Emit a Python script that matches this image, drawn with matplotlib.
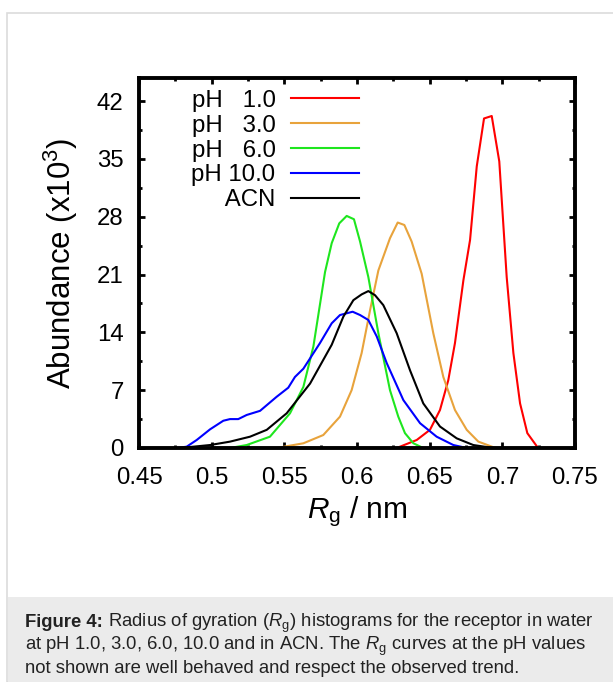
import matplotlib
matplotlib.use('Agg')
import matplotlib.pyplot as plt
from matplotlib.patches import Rectangle
from matplotlib.ticker import MultipleLocator

plt.rcParams['font.family'] = ['Liberation Sans', 'DejaVu Sans']
plt.rcParams['mathtext.fontset'] = 'custom'
plt.rcParams['mathtext.rm'] = 'Liberation Sans'
plt.rcParams['mathtext.it'] = 'Liberation Sans:italic'
plt.rcParams['mathtext.bf'] = 'Liberation Sans:bold'

# Rg histograms (abundance x10^3)
x_ph1 = [0.6273, 0.6411, 0.6502, 0.6571, 0.6628, 0.6674, 0.6732, 0.6778, 0.6824, 0.6874,
         0.6927, 0.6979, 0.7030, 0.7076, 0.7122, 0.7172, 0.7236, 0.7250]
y_ph1 = [0, 0.97, 2.2, 4.6, 8.2, 12.7, 20.3, 25.2, 34.1, 39.9,
         40.2, 34.7, 20.7, 11.5, 5.4, 1.8, 0.24, 0]

x_ph3 = [0.5447, 0.5631, 0.5768, 0.5883, 0.5963, 0.6032, 0.6090, 0.6147, 0.6227, 0.6280,
         0.6326, 0.6376, 0.6445, 0.6525, 0.6594, 0.6674, 0.6755, 0.6835, 0.6938, 0.6970]
y_ph3 = [0, 0.57, 1.57, 3.8, 7.0, 11.5, 16.7, 21.5, 25.4, 27.3,
         27.0, 25.0, 21.1, 13.9, 8.6, 4.6, 2.2, 0.77, 0.1, 0]

x_ph6 = [0.5126, 0.5241, 0.5401, 0.5539, 0.5631, 0.5700, 0.5780, 0.5826, 0.5878, 0.5929,
         0.5979, 0.6021, 0.6078, 0.6147, 0.6227, 0.6284, 0.6330, 0.6388, 0.6456]
y_ph6 = [0, 0.36, 1.37, 4.2, 7.4, 12.3, 21.3, 24.8, 27.2, 28.1,
         27.7, 25.0, 20.7, 13.9, 7.0, 3.8, 1.8, 0.57, 0]

x_ph10 = [0.4759, 0.4828, 0.4897, 0.4989, 0.5080, 0.5126, 0.5183, 0.5241, 0.5333, 0.5447,
          0.5527, 0.5573, 0.5631, 0.5745, 0.5826, 0.5883, 0.5970, 0.6021, 0.6078, 0.6136,
          0.6204, 0.6319, 0.6434, 0.6548, 0.6663, 0.6755]
y_ph10 = [0, 0.16, 0.97, 2.26, 3.3, 3.5, 3.5, 4.0, 4.5, 6.2,
          7.3, 8.6, 9.6, 12.7, 15.1, 16.1, 16.5, 16.1, 15.5, 13.5,
          10.3, 5.8, 3.0, 1.37, 0.36, 0]

x_acn = [0.4782, 0.4989, 0.5126, 0.5264, 0.5379, 0.5516, 0.5677, 0.5826, 0.5906, 0.5975,
         0.6032, 0.6078, 0.6124, 0.6181, 0.6273, 0.6365, 0.6456, 0.6571, 0.6686, 0.6800,
         0.6938]
y_acn = [0, 0.36, 0.77, 1.37, 2.2, 4.2, 7.8, 12.5, 15.9, 17.9,
         18.6, 19.0, 18.5, 17.3, 13.9, 9.4, 5.4, 2.6, 1.17, 0.36,
         0]

# labels padded so the numbers line up on the right like the original key
labels = ['pH   1.0', 'pH   3.0', 'pH   6.0', 'pH 10.0', '     ACN']
colors = ['#ff0000', '#e8a33c', '#1ee61e', '#0000ff', '#000000']
series = [(x_ph1, y_ph1), (x_ph3, y_ph3), (x_ph6, y_ph6), (x_ph10, y_ph10), (x_acn, y_acn)]

caption = ['Radius of gyration ($R_\\mathrm{g}$) histograms for the receptor in water',
           'at pH 1.0, 3.0, 6.0, 10.0 and in ACN. The $R_\\mathrm{g}$ curves at the pH values',
           'not shown are well behaved and respect the observed trend.']

W, H = 613, 682
fig = plt.figure(figsize=(W / 100, H / 100), dpi=100)

# page frame and caption box
fig.patches.append(Rectangle((7 / W, 0), 1, 1 - 13 / H, transform=fig.transFigure,
                             facecolor='white', edgecolor='#dcdcdc', lw=1.2, zorder=-2))
fig.patches.append(Rectangle((8 / W, 0), 1, 85 / H, transform=fig.transFigure,
                             facecolor='#ebebeb', edgecolor='none', zorder=-1))

ax = fig.add_axes([139 / W, 1 - 448 / H, 436 / W, 370 / H])

for (xs, ys), lab, c in zip(series, labels, colors):
    ax.plot(xs, ys, color=c, lw=1.5, label=lab)

ax.set_xlim(0.45, 0.75)
ax.set_ylim(0, 44.8)
ax.xaxis.set_minor_locator(MultipleLocator(0.025))
ax.yaxis.set_major_locator(MultipleLocator(7))
ax.yaxis.set_minor_locator(MultipleLocator(3.5))
ax.set_xticks([0.45, 0.5, 0.55, 0.6, 0.65, 0.7, 0.75])
ax.set_xticklabels(['0.45', '0.5', '0.55', '0.6', '0.65', '0.7', '0.75'])

for s in ax.spines.values():
    s.set_linewidth(2.8)
ax.tick_params(which='both', direction='in', top=True, right=True, width=2.0)
ax.tick_params(which='major', length=4.5, labelsize=17.3)
ax.tick_params(axis='x', which='major', pad=13.5)
ax.tick_params(axis='y', which='major', pad=11)
ax.tick_params(which='minor', length=2.2)

ax.set_xlabel('$R_\\mathrm{g}$ / nm', fontsize=21.5, labelpad=4)
ax.set_ylabel('Abundance (x10$^3$)', fontsize=22.5, labelpad=12)

leg = ax.legend(loc='upper right', bbox_to_anchor=((359 - 139) / 436, 0.968),
                frameon=False, fontsize=17.3, markerfirst=False,
                handlelength=2.85, handletextpad=0.62, labelspacing=0.12,
                borderpad=0, borderaxespad=0)

# caption, bold lead-in then normal text
cap_fs = 13.3
cap_col = '#222222'
baselines = [627, 650, 673]
r = fig.canvas.get_renderer()
lead = fig.text(25 / W, 1 - baselines[0] / H, 'Figure 4:', fontsize=cap_fs,
                fontweight='bold', va='baseline', color=cap_col)
x_after = lead.get_window_extent(r).x1 + 0.28 * cap_fs * 100 / 72
fig.text(x_after / W, 1 - baselines[0] / H, caption[0], fontsize=cap_fs,
         va='baseline', color=cap_col)
for line, yb in zip(caption[1:], baselines[1:]):
    fig.text(25 / W, 1 - yb / H, line, fontsize=cap_fs, va='baseline', color=cap_col)

fig.savefig('out.png', dpi=100)
